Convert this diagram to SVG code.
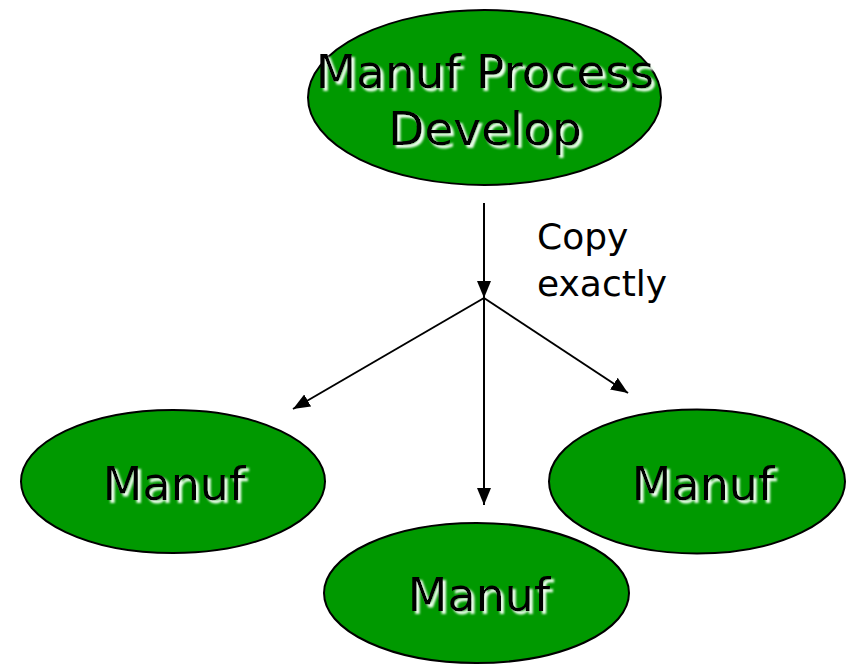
<svg xmlns="http://www.w3.org/2000/svg" width="846" height="664" viewBox="0 0 846 664">
  <style>
    .node ellipse { fill: #009900; stroke: #000; stroke-width: 2; }
    .label { font-family: "DejaVu Sans", Verdana, sans-serif; font-size: 46px; fill: #000; text-anchor: middle; filter: url(#shadow); }
    .big { font-size: 47px; }
    .edge { stroke: #000; stroke-width: 2; fill: none; marker-end: url(#arrow); }
    .note { font-family: "DejaVu Sans", Verdana, sans-serif; font-size: 36px; fill: #000; }
  </style>
  <defs>
    <marker id="arrow" markerUnits="userSpaceOnUse" markerWidth="17" markerHeight="15" refX="17" refY="7" orient="auto">
      <path d="M0,0 L17,7 L0,14 z" fill="#000"/>
    </marker>
    <filter id="shadow" x="-10%" y="-20%" width="130%" height="150%">
      <feGaussianBlur in="SourceAlpha" stdDeviation="1.2" result="blur"/>
      <feOffset in="blur" dx="3" dy="3" result="off"/>
      <feFlood flood-color="#f0fff0" result="col"/>
      <feComposite in="col" in2="off" operator="in" result="sh"/>
      <feMerge>
        <feMergeNode in="sh"/>
        <feMergeNode in="SourceGraphic"/>
      </feMerge>
    </filter>
  </defs>
  <rect width="846" height="664" fill="#fff"/>

  <g id="edges">
    <line class="edge" x1="484" y1="203" x2="484" y2="298"/>
    <line class="edge" x1="484" y1="298" x2="293" y2="409"/>
    <line class="edge" x1="484" y1="298" x2="628" y2="393"/>
    <line class="edge" x1="484" y1="298" x2="484" y2="505"/>
    <text class="note" x="537" y="249">Copy</text>
    <text class="note" x="537" y="296">exactly</text>
  </g>

  <g id="develop" class="node">
    <ellipse cx="484.5" cy="97.5" rx="176.5" ry="87.5"/>
    <text class="label big" x="485" y="88">Manuf Process</text>
    <text class="label big" x="485" y="145">Develop</text>
  </g>

  <g id="manuf-left" class="node">
    <ellipse cx="173" cy="481.5" rx="152" ry="71.5"/>
    <text class="label" x="174" y="500">Manuf</text>
  </g>

  <g id="manuf-right" class="node">
    <ellipse cx="697" cy="481.5" rx="148" ry="72"/>
    <text class="label" x="703" y="500">Manuf</text>
  </g>

  <g id="manuf-bottom" class="node">
    <ellipse cx="476.5" cy="593" rx="152.5" ry="70"/>
    <text class="label" x="479" y="611">Manuf</text>
  </g>
</svg>
